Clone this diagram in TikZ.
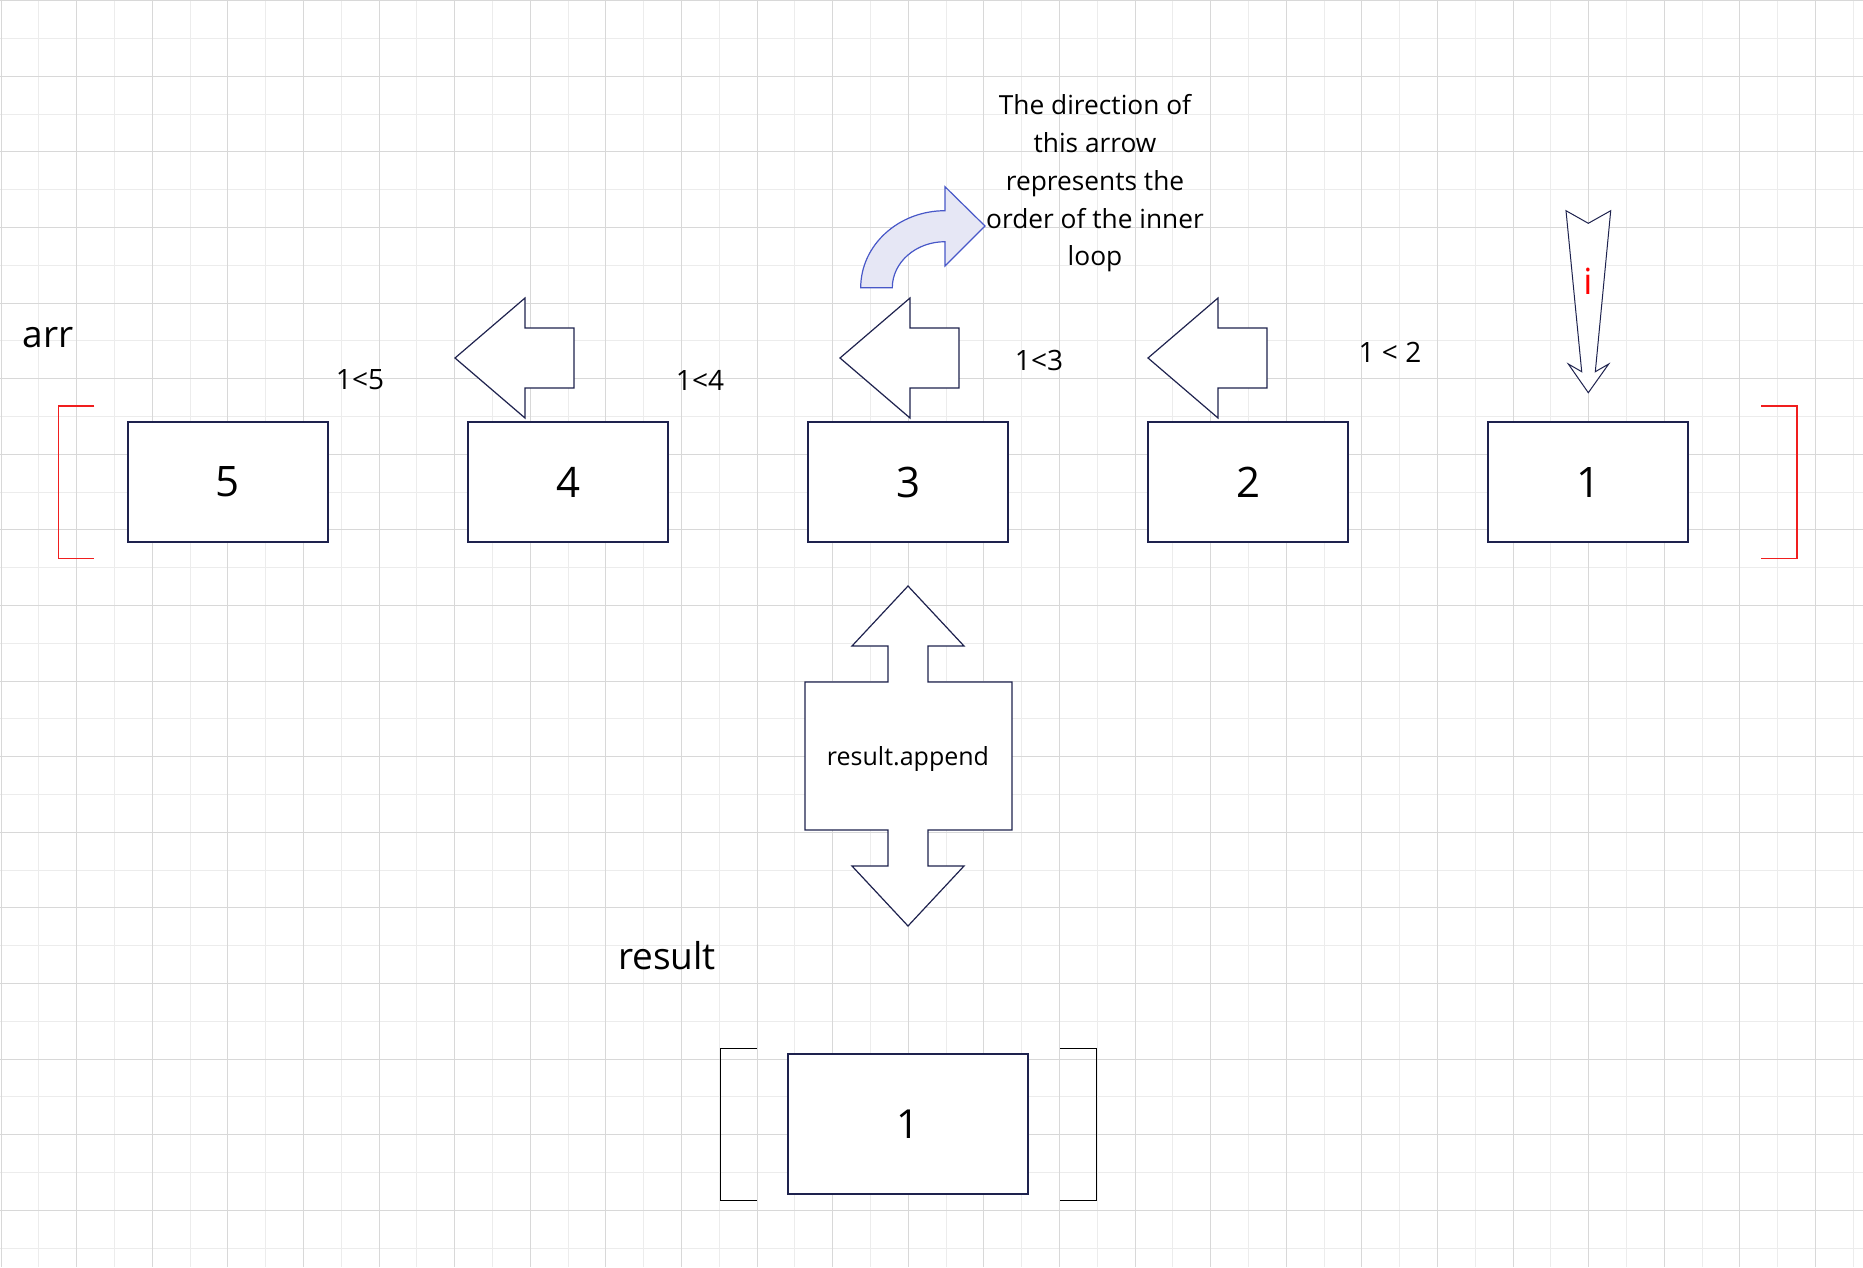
\documentclass[tikz,border=0pt]{standalone}
\usepackage{fontspec}
\setmainfont{Open Sans}
\definecolor{navy}{RGB}{30,34,78}
\definecolor{gridmajor}{RGB}{216,216,216}
\definecolor{gridminor}{RGB}{236,236,236}
\definecolor{curvestroke}{RGB}{72,88,200}
\definecolor{curvefill}{RGB}{230,231,245}
\definecolor{brred}{RGB}{240,30,30}
\tikzset{
  majorline/.style={draw=gridmajor,line width=1pt},
  minorline/.style={draw=gridminor,line width=1pt},
  cellbox/.style={draw=navy,line width=1.4pt,fill=white,minimum width=200pt,minimum height=120pt,inner sep=0pt,font=\fontsize{42}{50}\selectfont},
  blockarrow/.style={draw=navy,line width=1.2pt,fill=white,line join=miter},
  cmplabel/.style={inner sep=0pt,anchor=base,font=\fontsize{28}{34}\selectfont},
  biglabel/.style={inner sep=0pt,anchor=base,font=\fontsize{37}{44}\selectfont},
  bracketred/.style={draw=brred,line width=1.5pt},
  bracketblack/.style={draw=black,line width=1.5pt},
  pics/leftarrow/.style={code={
    \draw[blockarrow] (0,0) -- (70,-60) -- (70,-30) -- (119,-30) -- (119,30) -- (70,30) -- (70,60) -- cycle;
  }}
}
\begin{document}
\begin{tikzpicture}[x=1pt,y=-1pt]
\useasboundingbox (0,0) rectangle (1863,1267);
\fill[white] (0,0) rectangle (1863,1267);
% grid (snapped to pixel centres)
\foreach \k in {0,...,24} \draw[minorline] ({floor(38.8+75.6*\k)+0.5},0) -- ({floor(38.8+75.6*\k)+0.5},1267);
\foreach \k in {0,...,16} \draw[minorline] (0,{floor(38.5+75.6*\k)+0.5}) -- (1863,{floor(38.5+75.6*\k)+0.5});
\foreach \k in {0,...,24} \draw[majorline] ({floor(1+75.6*\k)+0.5},0) -- ({floor(1+75.6*\k)+0.5},1267);
\foreach \k in {0,...,16} \draw[majorline] (0,{floor(0.7+75.6*\k)+0.5}) -- (1863,{floor(0.7+75.6*\k)+0.5});

% arr label and brackets
\node[biglabel] (arrlabel) at (48,347) {arr};
\draw[bracketred] (94.3,406) -- (58.7,406) -- (58.7,558.3) -- (94.3,558.3);
\draw[bracketred] (1761,406) -- (1797,406) -- (1797,558.3) -- (1761,558.3);

% array cells
\node[cellbox] (c5) at (228,482) {5};
\node[cellbox] (c4) at (568,482) {4};
\node[cellbox] (c3) at (908,482) {3};
\node[cellbox] (c2) at (1248,482) {2};
\node[cellbox] (c1) at (1588,482) {1};

% comparison labels
\node[cmplabel] (cmp5) at (360,389.5) {1<5};
\node[cmplabel] (cmp4) at (700,390) {1<4};
\node[cmplabel] (cmp3) at (1039,370) {1<3};
\node[cmplabel] (cmp2) at (1390,362) {1 < 2};

% block arrows pointing left
\pic at (455,358) {leftarrow};
\pic at (840,358) {leftarrow};
\pic at (1148,358) {leftarrow};

% curved arrow
\draw[draw=curvestroke,fill=curvefill,line width=1.2pt,line join=miter]
  (860.7,287.7) .. controls (860.7,245.2) and (898.4,210.7) .. (945,210.7)
  -- (945,186.7) -- (985,226) -- (945,266) -- (945,241.7)
  .. controls (915.9,241.7) and (892.3,262.3) .. (892.3,287.7) -- cycle;

% explanatory text
\node[inner sep=0pt,align=center,font=\fontsize{26.3}{37.7}\selectfont] (note) at (1095,183.4)
  {The direction of\\this arrow\\represents the\\order of the inner\\loop};

% i pointer arrow
\draw[blockarrow,line width=1pt] (1566,210.7) -- (1588.3,223.3) -- (1610.7,210.7) -- (1595.3,371.7)
  -- (1608.7,364) -- (1588.3,392.7) -- (1568.3,364) -- (1581.7,371.7) -- cycle;
\node[inner sep=0pt,text=red,font=\fontsize{36}{42}\selectfont] (ilabel) at (1588,281) {i};

% double arrow with result.append
\draw[blockarrow] (908,586) -- (964,646) -- (928,646) -- (928,682) -- (1012,682) -- (1012,830)
  -- (928,830) -- (928,866) -- (964,866) -- (908,926) -- (852,866) -- (888,866) -- (888,830)
  -- (805,830) -- (805,682) -- (888,682) -- (888,646) -- (852,646) -- cycle;
\node[inner sep=0pt,font=\fontsize{25}{30}\selectfont] (append) at (908,759) {result.append};

% result
\node[biglabel] (resultlabel) at (667,969) {result};
\draw[bracketblack] (756.7,1048.3) -- (720.3,1048.3) -- (720.3,1200.3) -- (756.7,1200.3);
\draw[bracketblack] (1060,1048.3) -- (1096.3,1048.3) -- (1096.3,1200.3) -- (1060,1200.3);
\node[cellbox,minimum width=240pt,minimum height=140pt,font=\fontsize{40}{48}\selectfont] (r1) at (908,1124) {1};
\end{tikzpicture}
\end{document}
